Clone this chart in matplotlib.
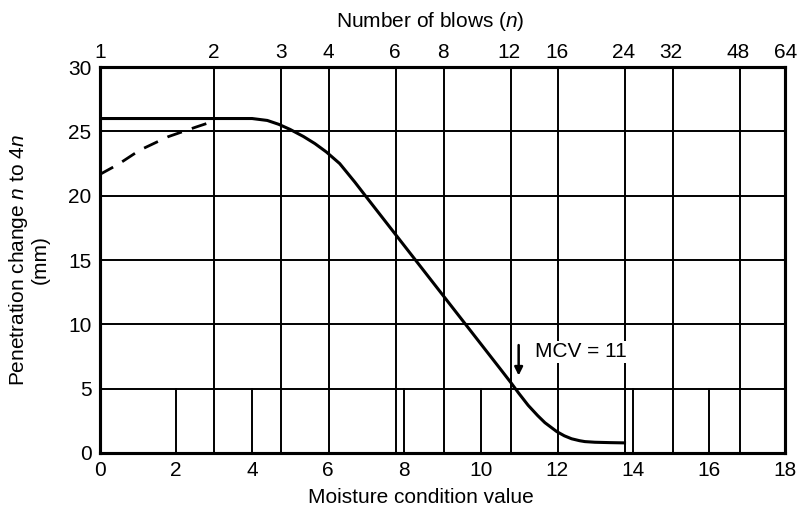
import numpy as np
import matplotlib
matplotlib.use("Agg")
import matplotlib.pyplot as plt

plt.rcParams['font.family'] = ['Liberation Sans', 'DejaVu Sans']
plt.rcParams['mathtext.fontset'] = 'custom'
plt.rcParams['mathtext.it'] = 'Liberation Sans:italic'
plt.rcParams['mathtext.rm'] = 'Liberation Sans'

# data
blows = [1, 2, 3, 4, 6, 8, 12, 16, 24, 32, 48, 64]
mcv_ticks = [0, 2, 4, 6, 8, 10, 12, 14, 16, 18]
short_lines = [2, 4, 8, 10, 14, 16]
y_ticks = [0, 5, 10, 15, 20, 25, 30]

curve_x = [0.0, 3.0, 4.0, 4.4, 4.7, 5.0, 5.35, 5.65, 5.95, 6.3, 6.7, 7.0,
           7.5, 8.0, 8.5, 9.0, 9.5, 10.0, 10.5, 10.8, 11.0, 11.25, 11.5,
           11.69, 12.0, 12.2, 12.39, 12.6, 12.74, 13.0, 13.4, 13.78]
curve_y = [26.0, 26.0, 26.0, 25.85, 25.55, 25.15, 24.6, 24.05, 23.4, 22.5,
           21.05, 19.9, 18.0, 16.1, 14.2, 12.3, 10.4, 8.5, 6.6, 5.45, 4.65,
           3.7, 2.9, 2.35, 1.66, 1.33, 1.1, 0.95, 0.88, 0.83, 0.8, 0.78]

dash_x = [0.0, 0.48, 1.05, 1.79, 2.54, 3.05]
dash_y = [21.65, 22.43, 23.54, 24.58, 25.35, 25.85]

mcv_arrow = 11.0


def blows_to_mcv(n):
    return 10 * np.log10(n)


fs = 15
fig = plt.figure(figsize=(7.98, 5.2), dpi=100)
ax = fig.add_axes([0.125, 0.129, 0.859, 0.742])
ax.set_xlim(0, 18)
ax.set_ylim(0, 30)

lw = 1.4
for n in blows[1:-1]:
    ax.axvline(blows_to_mcv(n), color='black', lw=lw, zorder=1)
for y in y_ticks[1:-1]:
    ax.axhline(y, color='black', lw=lw, zorder=1)
for x in short_lines:
    ax.plot([x, x], [0, 5], color='black', lw=lw, zorder=1)

ax.plot(curve_x, curve_y, color='black', lw=2.2, zorder=3,
        solid_joinstyle='round')
ax.plot(dash_x, dash_y, color='black', lw=2.0, dashes=(5.5, 3.8), zorder=3)

ax.annotate('', xy=(mcv_arrow, 5.8), xytext=(mcv_arrow, 8.6),
            arrowprops=dict(arrowstyle='-|>', color='black', lw=1.8,
                            mutation_scale=12))
ax.text(11.42, 7.85, 'MCV = 11', fontsize=fs, va='center', ha='left',
        bbox=dict(facecolor='white', edgecolor='none', pad=1), zorder=4)

for s in ax.spines.values():
    s.set_linewidth(2.2)

ax.set_xticks(mcv_ticks)
ax.set_yticks(y_ticks)
ax.tick_params(length=0, labelsize=fs, pad=6)
ax.set_xlabel('Moisture condition value', fontsize=fs)
ax.xaxis.set_label_coords(0.469, -0.091)
ax.set_ylabel('Penetration change $\\mathit{n}$ to 4$\\mathit{n}$\n(mm)',
              fontsize=fs, linespacing=1.05)
ax.yaxis.set_label_coords(-0.073, 0.5)

top = ax.twiny()
top.set_xlim(0, 18)
top.set_xticks([blows_to_mcv(n) for n in blows])
top.set_xticklabels([str(n) for n in blows])
top.tick_params(length=0, labelsize=fs, pad=4)
top.set_xlabel('Number of blows ($\\mathit{n}$)', fontsize=fs)
top.xaxis.set_label_coords(0.482, 1.104)
for s in top.spines.values():
    s.set_linewidth(2.2)

fig.savefig('out.png', dpi=100)
